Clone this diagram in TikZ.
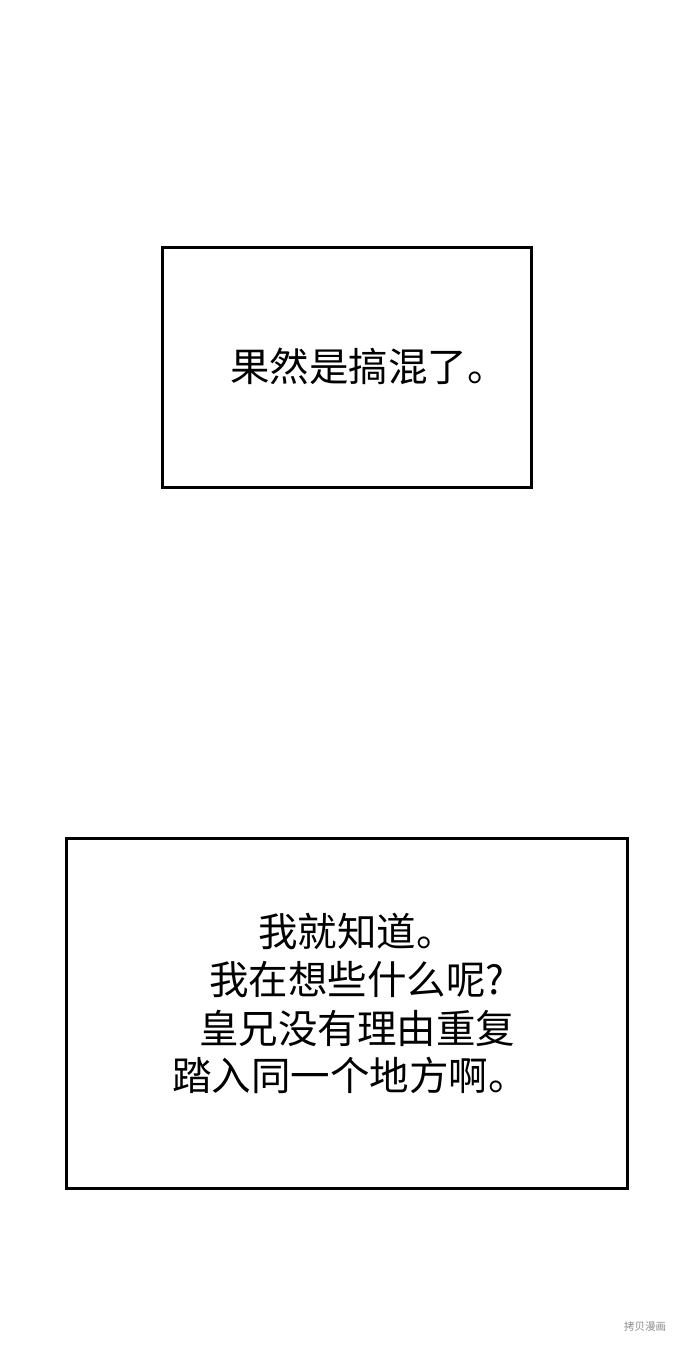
\documentclass[tikz,border=0pt]{standalone}
\usepackage{fontspec}
\setmainfont{Noto Sans CJK SC}
\begin{document}
\begin{tikzpicture}[x=1pt,y=-1pt,
  panel/.style={draw,line width=3pt},
  say/.style={inner sep=0pt,font=\fontsize{39.5pt}{48pt}\selectfont},
  wmark/.style={inner sep=0pt,text=black!45,font=\fontsize{10.5pt}{12pt}\selectfont}]
\useasboundingbox (0,0) rectangle (690,1346);
\fill[white] (0,0) rectangle (690,1346);
% first panel
\draw[panel] (162,247) rectangle (531,487);
\node at (230,366) [say,anchor=west] (t1) {果然是搞混了。};
% second panel
\draw[panel] (66,838) rectangle (627,1188);
\node at (258,931) [say,anchor=west] (l1) {我就知道。};
\node at (209,980) [say,anchor=west] (l2) {我在想些什么呢?};
\node at (199,1028) [say,anchor=west] (l3) {皇兄没有理由重复};
\node at (172,1075) [say,anchor=west] (l4) {踏入同一个地方啊。};
\node at (645,1326) [wmark] (wm) {拷贝漫画};
\end{tikzpicture}
\end{document}
